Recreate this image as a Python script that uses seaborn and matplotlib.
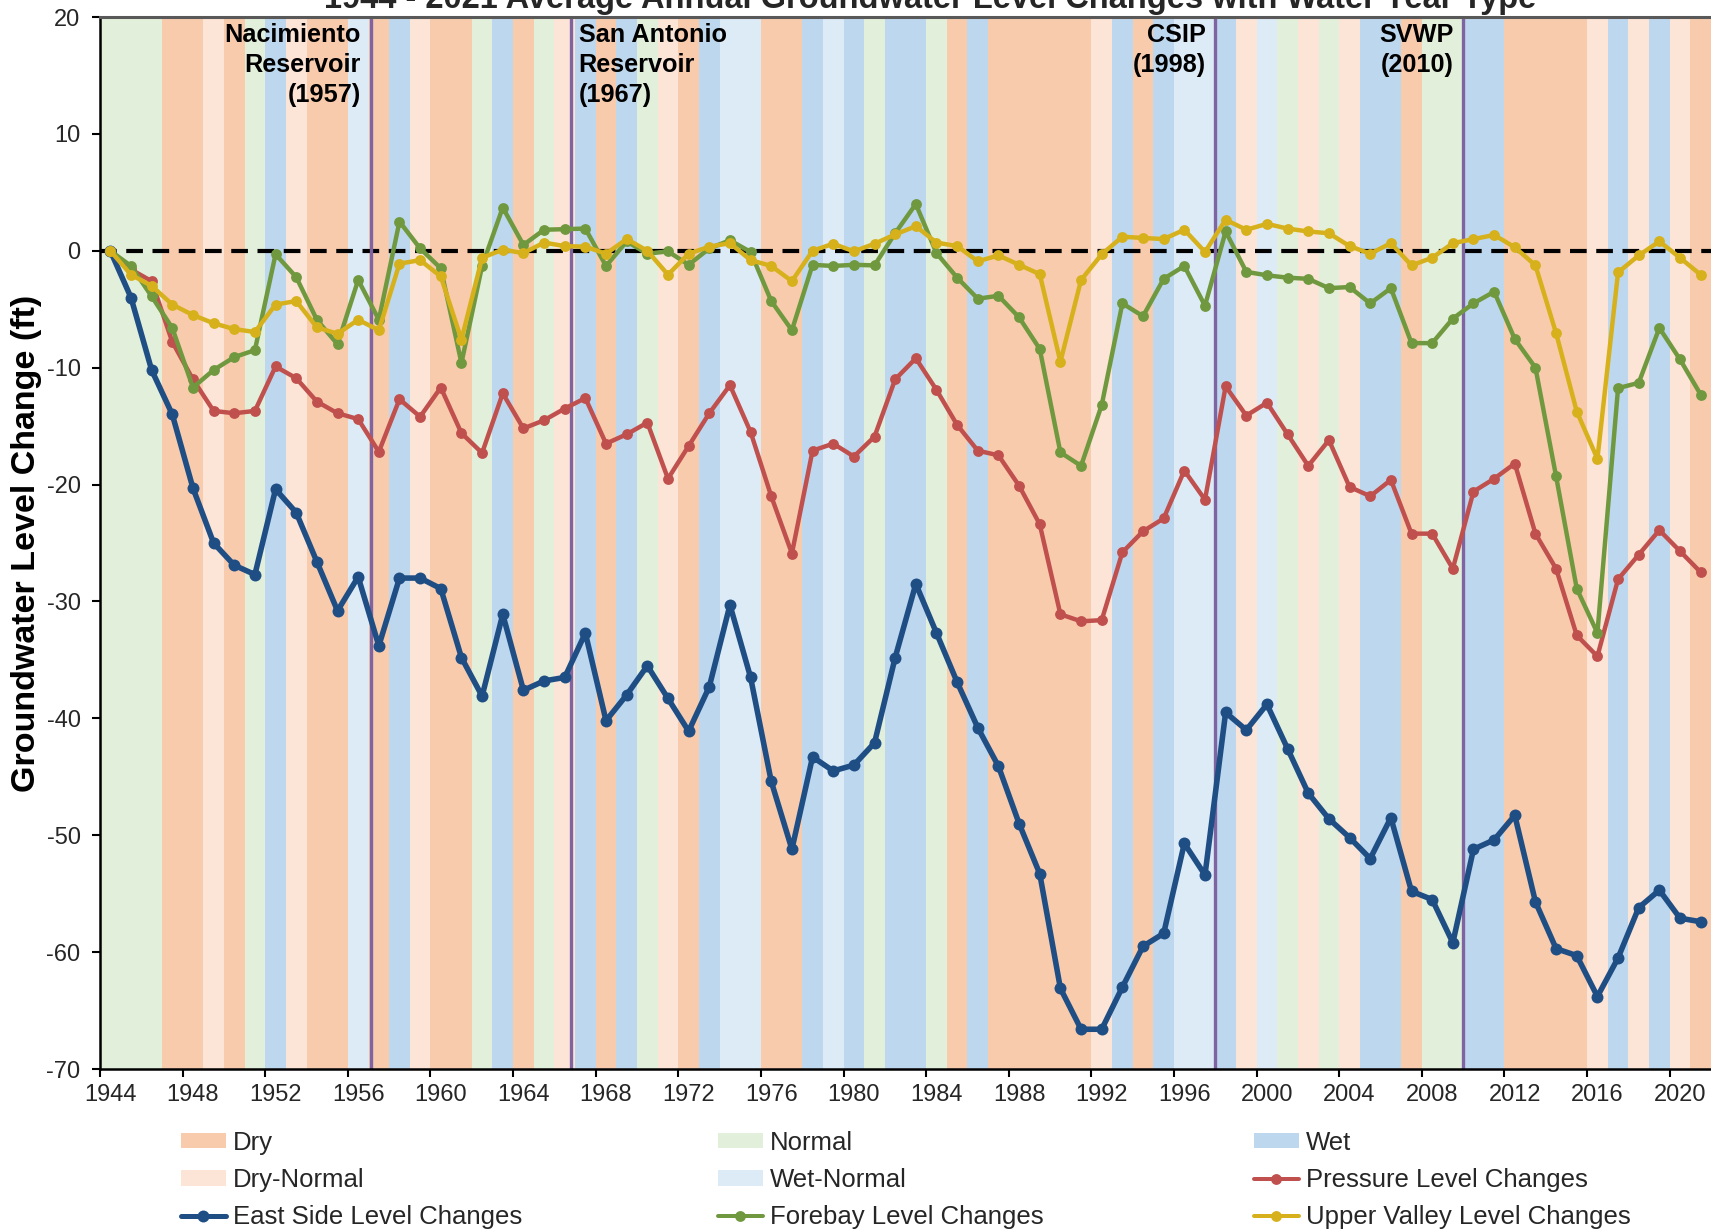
import matplotlib
matplotlib.use("Agg")
import matplotlib.pyplot as plt
from matplotlib.patches import Patch
from matplotlib.lines import Line2D
import numpy as np
import pandas as pd
import seaborn as sns

# Water years and type of each year
years = list(range(1944, 2022))
year_type = [
    "Normal", "Normal", "Normal", "Dry", "Dry", "Dry-Normal", "Dry", "Normal", "Wet", "Dry-Normal",   # 1944-1953
    "Dry", "Dry", "Wet-Normal", "Dry", "Wet", "Dry-Normal", "Dry", "Dry", "Normal", "Wet",            # 1954-1963
    "Dry", "Normal", "Dry-Normal", "Wet", "Dry", "Wet", "Normal", "Dry-Normal", "Dry", "Wet",          # 1964-1973
    "Wet-Normal", "Wet-Normal", "Dry", "Dry", "Wet", "Wet-Normal", "Wet", "Normal", "Wet", "Wet",     # 1974-1983
    "Normal", "Dry", "Wet", "Dry", "Dry", "Dry", "Dry", "Dry", "Dry-Normal", "Wet",                   # 1984-1993
    "Dry", "Wet", "Wet-Normal", "Wet-Normal", "Wet", "Dry-Normal", "Wet-Normal", "Normal", "Dry-Normal", "Normal",  # 1994-2003
    "Dry-Normal", "Wet", "Wet", "Dry", "Normal", "Normal", "Wet", "Wet", "Dry", "Dry",                # 2004-2013
    "Dry", "Dry", "Dry-Normal", "Wet", "Dry-Normal", "Wet", "Dry-Normal", "Dry",                       # 2014-2021
]

# Average annual level change (ft) per subarea
east_side = [
    0, -4.0, -10.2, -14.0, -20.3, -25.0, -26.9, -27.7, -20.4, -22.4,
    -26.6, -30.8, -27.9, -33.8, -28.0, -28.0, -28.9, -34.8, -38.1, -31.1,
    -37.6, -36.8, -36.5, -32.7, -40.2, -38.0, -35.5, -38.3, -41.1, -37.3,
    -30.3, -36.5, -45.4, -51.2, -43.3, -44.5, -44.0, -42.1, -34.8, -28.5,
    -32.7, -36.9, -40.8, -44.1, -49.0, -53.3, -63.1, -66.6, -66.6, -63.0,
    -59.5, -58.4, -50.7, -53.4, -39.5, -41.0, -38.8, -42.6, -46.4, -48.6,
    -50.2, -52.0, -48.5, -54.8, -55.5, -59.2, -51.2, -50.4, -48.3, -55.7,
    -59.7, -60.3, -63.8, -60.5, -56.2, -54.7, -57.1, -57.4,
]
pressure = [
    0, -1.6, -2.6, -7.8, -11.0, -13.7, -13.9, -13.7, -9.9, -10.9,
    -12.9, -13.9, -14.4, -17.2, -12.7, -14.2, -11.7, -15.6, -17.3, -12.2,
    -15.2, -14.5, -13.5, -12.6, -16.5, -15.7, -14.7, -19.5, -16.7, -13.9,
    -11.5, -15.5, -21.0, -25.9, -17.1, -16.5, -17.6, -15.9, -11.0, -9.2,
    -11.9, -14.9, -17.1, -17.5, -20.1, -23.4, -31.1, -31.7, -31.6, -25.8,
    -24.0, -22.9, -18.8, -21.3, -11.6, -14.1, -13.0, -15.7, -18.4, -16.2,
    -20.2, -21.0, -19.6, -24.2, -24.2, -27.2, -20.6, -19.5, -18.2, -24.2,
    -27.2, -32.9, -34.7, -28.1, -26.0, -23.9, -25.7, -27.5,
]
forebay = [
    0, -1.3, -3.9, -6.6, -11.7, -10.2, -9.1, -8.5, -0.3, -2.25,
    -5.9, -8.0, -2.5, -5.9, 2.5, 0.2, -1.5, -9.6, -1.3, 3.7,
    0.5, 1.8, 1.85, 1.9, -1.3, 0.8, -0.25, -0.05, -1.2, 0.2,
    0.9, -0.1, -4.3, -6.8, -1.2, -1.3, -1.2, -1.25, 1.5, 4.0,
    -0.2, -2.3, -4.1, -3.85, -5.7, -8.4, -17.25, -18.4, -13.2, -4.5,
    -5.6, -2.4, -1.3, -4.7, 1.65, -1.8, -2.1, -2.3, -2.4, -3.2,
    -3.1, -4.5, -3.2, -7.9, -7.9, -5.8, -4.5, -3.5, -7.55, -10.0,
    -19.3, -28.9, -32.7, -11.75, -11.3, -6.6, -9.3, -12.3,
]
upper_valley = [
    0, -2.05, -3.0, -4.6, -5.5, -6.2, -6.7, -6.95, -4.6, -4.3,
    -6.55, -7.1, -5.9, -6.8, -1.1, -0.8, -2.2, -7.6, -0.6, 0.1,
    -0.2, 0.7, 0.4, 0.35, -0.25, 1.0, 0.0, -2.05, -0.25, 0.35,
    0.65, -0.8, -1.3, -2.6, 0.0, 0.6, -0.05, 0.6, 1.4, 2.1,
    0.7, 0.4, -0.9, -0.4, -1.2, -2.0, -9.5, -2.5, -0.3, 1.2,
    1.1, 1.0, 1.8, -0.1, 2.65, 1.8, 2.3, 1.9, 1.65, 1.5,
    0.4, -0.25, 0.65, -1.25, -0.6, 0.65, 1.0, 1.35, 0.3, -1.25,
    -7.05, -13.75, -17.8, -1.85, -0.4, 0.8, -0.6, -2.05,
]

series_names = ["East Side Level Changes", "Pressure Level Changes",
                "Forebay Level Changes", "Upper Valley Level Changes"]

# Milestones
event_labels = ["Nacimiento\nReservoir\n(1957)", "San Antonio\nReservoir\n(1967)",
                "CSIP\n(1998)", "SVWP\n(2010)"]
event_years = [1956.6, 1966.3, 1997.5, 2009.5]

title = "1944 - 2021 Average Annual Groundwater Level Changes with Water Year Type"

# styling
type_colors = {
    "Dry": "#F8CBAD",
    "Dry-Normal": "#FCE4D6",
    "Normal": "#E2EFDA",
    "Wet-Normal": "#DDEBF7",
    "Wet": "#BDD7EE",
}
line_colors = ["#1F4E85", "#C0504D", "#70993F", "#D6B11C"]
line_widths = [4.0, 3.2, 3.2, 3.2]
marker_sizes = [8.6, 7.8, 7.8, 7.8]

sns.set_theme(style="white")
plt.rcParams["font.family"] = ["Liberation Sans", "DejaVu Sans"]
plt.rcParams["axes.unicode_minus"] = False
text_col = "#262626"

W, H = 1711, 1232
fig = plt.figure(figsize=(W / 100, H / 100), dpi=100)
ax = fig.add_axes([100 / W, 1 - 1069 / H, 1 - 100 / W, (1069 - 17) / H])

# background water-year bands
for yr, t in zip(years, year_type):
    ax.axvspan(yr - 0.5, yr + 0.5, color=type_colors[t], lw=0, zorder=0)

ax.axhline(0, color="black", lw=3, dashes=(4, 2.3), zorder=1.5)

for ex in event_years:
    ax.axvline(ex, color="#8064A2", lw=2.4, zorder=1.8)

df = pd.DataFrame({"year": years, series_names[0]: east_side, series_names[1]: pressure,
                   series_names[2]: forebay, series_names[3]: upper_valley})
for i, name in enumerate(series_names):
    sns.lineplot(data=df, x="year", y=name, ax=ax, color=line_colors[i], lw=line_widths[i],
                 marker="o", markersize=marker_sizes[i], markeredgewidth=0, zorder=3 + i)

# milestone labels
for lab, ex in zip(event_labels, event_years):
    right = not lab.startswith("San")
    ax.annotate(lab, xy=(ex, 20), xytext=(-7 if right else 5.5, -4), textcoords="offset points",
                ha="right" if right else "left", va="top", multialignment="right" if right else "left",
                fontsize=18.2, fontweight="bold", color="black", linespacing=1.32, zorder=6)

ax.set_xlim(1943.5, 2021.5)
ax.set_ylim(-70, 20)
ax.set_yticks(range(-70, 21, 10))
ax.set_xticks(range(1944, 2021, 4))
ax.set_xticks(np.arange(1943.5, 2020, 4), minor=True)
ax.tick_params(axis="x", which="major", length=0, pad=11, labelsize=17, labelcolor=text_col)
ax.tick_params(axis="x", which="minor", length=6, width=1.5, color="black", direction="out", bottom=True)
ax.tick_params(axis="y", length=6, width=1.5, color="black", direction="out", left=True,
               pad=8, labelsize=17, labelcolor=text_col)
ax.set_xlabel("")
ax.set_ylabel("Groundwater Level Change (ft)", fontsize=24.5, fontweight="bold", color="black")
ax.yaxis.set_label_coords(-0.036, 0.5)

for s in ["left", "bottom"]:
    ax.spines[s].set_color("black")
    ax.spines[s].set_linewidth(1.8)
ax.spines["top"].set_color("#595959")
ax.spines["top"].set_linewidth(2.2)
ax.spines["right"].set_visible(False)

fig.text(930 / W, 1 - 8 / H, title, ha="center", va="baseline", fontsize=23.5,
         fontweight="bold", color=text_col)

# legend: three columns placed by hand
def patch(t):
    return Patch(facecolor=type_colors[t], edgecolor="none", label=t)

def line(i):
    return Line2D([], [], color=line_colors[i], lw=line_widths[i] * 0.9, marker="o",
                  markersize=marker_sizes[i], markeredgewidth=0, label=series_names[i])

columns = [
    ([patch("Dry"), patch("Dry-Normal"), line(0)], 181),
    ([patch("Normal"), patch("Wet-Normal"), line(2)], 718),
    ([patch("Wet"), line(1), line(3)], 1254),
]
for handles, x0 in columns:
    fig.legend(handles=handles, loc="center left", bbox_to_anchor=(x0 / W, 1 - 1180 / H),
               frameon=False, fontsize=18.5, handlelength=1.75, handleheight=0.55,
               handletextpad=0.28, labelspacing=0.52, borderpad=0, borderaxespad=0,
               labelcolor=text_col)

fig.savefig("out.png", dpi=100)
